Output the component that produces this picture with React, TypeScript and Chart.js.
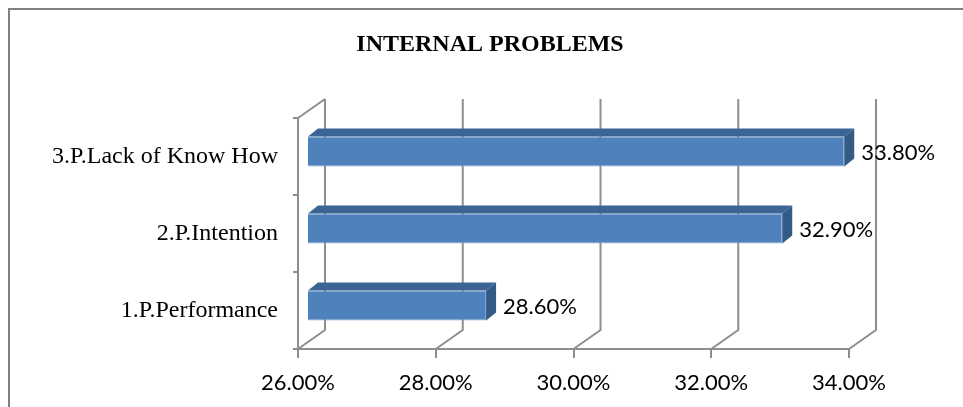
import React, { useEffect, useRef } from "react";
import { Chart, registerables } from "chart.js";

Chart.register(...registerables);

// Categories listed bottom-to-top (the y axis is reversed)
const categories = ["1.P.Performance", "2.P.Intention", "3.P.Lack of Know How"];
const shares = [28.6, 32.9, 33.8];
const axisMin = 26;
const axisMax = 34;
const axisStep = 2;
const chartTitle = "INTERNAL PROBLEMS";

const fmtPct = (v: number) => v.toFixed(2) + "%";

// 3D look: floor depth, bar position on the floor, and bar thickness in depth
const WALL = { x: 27, y: -19 };
const SHIFT = { x: 9, y: -5 };
const DEPTH = { x: 10, y: -8 };

const GRID = "#8e8e8e";
const FRONT = "#4f81bd";
const TOP = "#3c6596";
const SIDE = "#345a86";

const PAD_LEFT = 17;

const threeD = {
  id: "threeD",
  beforeDraw(chart: any) {
    const { ctx, width, height } = chart;
    ctx.save();
    ctx.fillStyle = "#ffffff";
    ctx.fillRect(0, 0, width, height);
    // outer frame (left and top edges)
    ctx.strokeStyle = "#7f7f7f";
    ctx.lineWidth = 2;
    ctx.beginPath();
    ctx.moveTo(9, height);
    ctx.lineTo(9, 9);
    ctx.lineTo(width, 9);
    ctx.stroke();
    ctx.restore();
  },
  beforeDatasetsDraw(chart: any) {
    const { ctx, chartArea, scales } = chart;
    const xs = scales.x;
    const { top, bottom, left } = chartArea;
    ctx.save();
    ctx.strokeStyle = GRID;
    ctx.lineWidth = 2;
    ctx.beginPath();
    // top edge of the side wall
    ctx.moveTo(left, top);
    ctx.lineTo(left + WALL.x, top + WALL.y);
    xs.ticks.forEach((t: any) => {
      const px = xs.getPixelForValue(t.value);
      ctx.moveTo(px, bottom);
      ctx.lineTo(px + WALL.x, bottom + WALL.y);
      ctx.lineTo(px + WALL.x, top + WALL.y);
    });
    ctx.stroke();
    ctx.restore();
  },
  beforeDatasetDraw(chart: any) {
    chart.ctx.save();
    chart.ctx.translate(SHIFT.x, SHIFT.y);
  },
  afterDatasetDraw(chart: any, args: any) {
    const { ctx } = chart;
    ctx.restore();
    const meta = args.meta;
    const ds = chart.data.datasets[args.index];
    meta.data.forEach((el: any, i: number) => {
      const p = el.getProps(["x", "y", "base", "height"], true);
      const l = Math.min(p.base, p.x) + SHIFT.x;
      const r = Math.max(p.base, p.x) + SHIFT.x;
      const t = p.y - p.height / 2 + SHIFT.y;
      const b = p.y + p.height / 2 + SHIFT.y;
      ctx.save();
      ctx.fillStyle = TOP;
      ctx.beginPath();
      ctx.moveTo(l, t);
      ctx.lineTo(r, t);
      ctx.lineTo(r + DEPTH.x, t + DEPTH.y);
      ctx.lineTo(l + DEPTH.x, t + DEPTH.y);
      ctx.closePath();
      ctx.fill();
      ctx.fillStyle = SIDE;
      ctx.beginPath();
      ctx.moveTo(r, t);
      ctx.lineTo(r + DEPTH.x, t + DEPTH.y);
      ctx.lineTo(r + DEPTH.x, b + DEPTH.y);
      ctx.lineTo(r, b);
      ctx.closePath();
      ctx.fill();
      // value label
      ctx.fillStyle = "#000000";
      ctx.font = "22px Lato";
      ctx.textAlign = "left";
      ctx.textBaseline = "middle";
      ctx.fillText(fmtPct(ds.data[i] as number), r + DEPTH.x + 7, p.y + SHIFT.y + 1);
      ctx.restore();
    });
  },
};

export default function App() {
  const ref = useRef<HTMLCanvasElement | null>(null);

  useEffect(() => {
    if (!ref.current) return;
    const chart = new Chart(ref.current, {
      type: "bar",
      data: {
        labels: categories,
        datasets: [
          {
            data: shares,
            base: axisMin,
            backgroundColor: FRONT,
            borderColor: "#7fa2cf",
            borderWidth: 1,
            categoryPercentage: 1,
            barPercentage: 0.39,
            clip: false as any,
          },
        ],
      },
      options: {
        indexAxis: "y",
        responsive: false,
        animation: false,
        devicePixelRatio: 1,
        layout: { padding: { left: PAD_LEFT, right: 0, top: 0, bottom: 0 } },
        plugins: {
          legend: { display: false },
          tooltip: { enabled: false },
          title: {
            display: true,
            text: chartTitle,
            color: "#000000",
            font: { family: "Liberation Serif", size: 24, weight: "bold" },
            padding: { top: 30, bottom: 59.2 },
          },
        },
        scales: {
          x: {
            type: "linear",
            min: axisMin,
            max: axisMax,
            ticks: {
              stepSize: axisStep,
              color: "#000000",
              font: { family: "Lato", size: 22 },
              padding: 12,
              maxRotation: 0,
              callback: (v: any) => fmtPct(Number(v)),
            },
            grid: {
              drawOnChartArea: false,
              drawTicks: true,
              tickLength: 9,
              color: GRID,
              lineWidth: 2,
            },
            border: { display: true, color: GRID, width: 2 },
            afterFit: (s: any) => {
              s.height = 58;
            },
          },
          y: {
            type: "category",
            reverse: true,
            ticks: {
              color: "#000000",
              font: { family: "Liberation Serif", size: 24 },
              padding: 15,
            },
            grid: {
              drawOnChartArea: false,
              drawTicks: true,
              tickLength: 5,
              color: GRID,
              lineWidth: 2,
            },
            border: { display: true, color: GRID, width: 2 },
            afterFit: (s: any) => {
              s.width = 298 - PAD_LEFT;
            },
          },
          // empty right-hand margin that holds the value labels
          margin: {
            type: "linear",
            position: "right",
            ticks: { display: false },
            grid: { display: false },
            border: { display: false },
            afterFit: (s: any) => {
              s.width = 963 - 849;
            },
          },
        },
      },
      plugins: [threeD],
    });
    return () => chart.destroy();
  }, []);

  return (
    <div style={{ position: "absolute", left: 0, top: 0, width: 963, height: 407 }}>
      <canvas ref={ref} width={963} height={407} />
    </div>
  );
}
